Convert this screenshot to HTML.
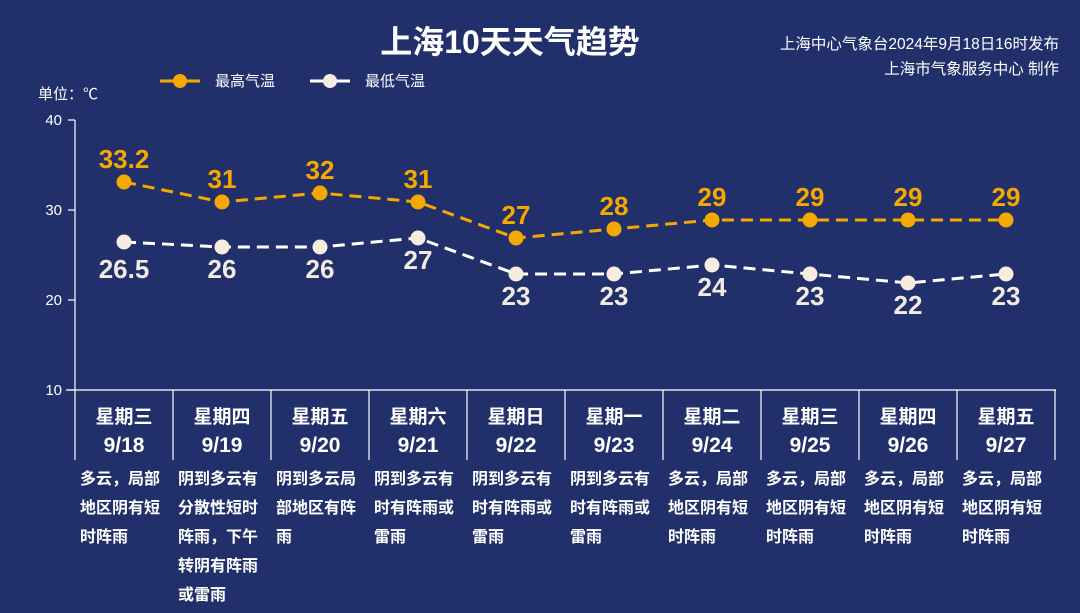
<!DOCTYPE html>
<html><head><meta charset="utf-8"><style>
html,body{margin:0;padding:0;background:#21306a;}
svg{display:block;font-family:"Liberation Sans","Noto Sans CJK SC",sans-serif;}
</style></head><body>
<svg width="1080" height="613" viewBox="0 0 1080 613">
<rect width="1080" height="613" fill="#21306a"/>
<text x="510" y="53" fill="#fff" font-size="32" font-weight="bold" text-anchor="middle">上海10天天气趋势</text>
<text x="1059" y="49" fill="#fff" font-size="15.5" text-anchor="end">上海中心气象台2024年9月18日16时发布</text>
<text x="1059" y="74" fill="#fff" font-size="15.5" text-anchor="end">上海市气象服务中心 制作</text>
<line x1="160" y1="81" x2="200" y2="81" stroke="#f5a800" stroke-width="3"/><circle cx="180" cy="81" r="7" fill="#f5a800"/>
<text x="215" y="86" fill="#fff" font-size="15">最高气温</text>
<line x1="310" y1="81" x2="350" y2="81" stroke="#fff" stroke-width="3"/><circle cx="330" cy="81" r="7" fill="#f6ece0"/>
<text x="365" y="86" fill="#fff" font-size="15">最低气温</text>
<text x="38" y="99" fill="#fff" font-size="15">单位：℃</text>
<g stroke="#fff" stroke-width="1.2">
<line x1="75" y1="120" x2="75" y2="460"/>
<line x1="68" y1="120" x2="75" y2="120"/><line x1="68" y1="210" x2="75" y2="210"/><line x1="68" y1="300" x2="75" y2="300"/><line x1="68" y1="390" x2="75" y2="390"/>
<line x1="66" y1="390" x2="1056" y2="390"/>
<line x1="173" y1="390" x2="173" y2="460"/><line x1="271" y1="390" x2="271" y2="460"/><line x1="369" y1="390" x2="369" y2="460"/><line x1="467" y1="390" x2="467" y2="460"/><line x1="565" y1="390" x2="565" y2="460"/><line x1="663" y1="390" x2="663" y2="460"/><line x1="761" y1="390" x2="761" y2="460"/><line x1="859" y1="390" x2="859" y2="460"/><line x1="957" y1="390" x2="957" y2="460"/><line x1="1055" y1="390" x2="1055" y2="460"/>
</g>
<g fill="#fff" font-size="15" text-anchor="end"><text x="62" y="125">40</text><text x="62" y="215">30</text><text x="62" y="305">20</text><text x="62" y="395">10</text></g>
<polyline fill="none" stroke="#f5a800" stroke-width="3" stroke-dasharray="12,7" points="124,182 222,202 320,193 418,202 516,238 614,229 712,220 810,220 908,220 1006,220"/>
<polyline fill="none" stroke="#fff" stroke-width="3" stroke-dasharray="12,7" points="124,242 222,247 320,247 418,238 516,274 614,274 712,265 810,274 908,283 1006,274"/>
<g fill="#f5a800"><circle cx="124" cy="182" r="7.5"/><circle cx="222" cy="202" r="7.5"/><circle cx="320" cy="193" r="7.5"/><circle cx="418" cy="202" r="7.5"/><circle cx="516" cy="238" r="7.5"/><circle cx="614" cy="229" r="7.5"/><circle cx="712" cy="220" r="7.5"/><circle cx="810" cy="220" r="7.5"/><circle cx="908" cy="220" r="7.5"/><circle cx="1006" cy="220" r="7.5"/></g>
<g fill="#f6ece0"><circle cx="124" cy="242" r="7.5"/><circle cx="222" cy="247" r="7.5"/><circle cx="320" cy="247" r="7.5"/><circle cx="418" cy="238" r="7.5"/><circle cx="516" cy="274" r="7.5"/><circle cx="614" cy="274" r="7.5"/><circle cx="712" cy="265" r="7.5"/><circle cx="810" cy="274" r="7.5"/><circle cx="908" cy="283" r="7.5"/><circle cx="1006" cy="274" r="7.5"/></g>
<g fill="#f5a800" font-size="26" font-weight="bold" text-anchor="middle">
<text x="124" y="168">33.2</text><text x="222" y="188">31</text><text x="320" y="179">32</text><text x="418" y="188">31</text><text x="516" y="224">27</text><text x="614" y="215">28</text><text x="712" y="206">29</text><text x="810" y="206">29</text><text x="908" y="206">29</text><text x="1006" y="206">29</text></g>
<g fill="#f2ebe4" font-size="26" font-weight="bold" text-anchor="middle">
<text x="124" y="278">26.5</text><text x="222" y="278">26</text><text x="320" y="278">26</text><text x="418" y="269">27</text><text x="516" y="305">23</text><text x="614" y="305">23</text><text x="712" y="296">24</text><text x="810" y="305">23</text><text x="908" y="314">22</text><text x="1006" y="305">23</text></g>
<g fill="#fff" font-size="19" font-weight="bold" text-anchor="middle">
<text x="124" y="423">星期三</text><text x="222" y="423">星期四</text><text x="320" y="423">星期五</text><text x="418" y="423">星期六</text><text x="516" y="423">星期日</text><text x="614" y="423">星期一</text><text x="712" y="423">星期二</text><text x="810" y="423">星期三</text><text x="908" y="423">星期四</text><text x="1006" y="423">星期五</text></g>
<g fill="#fff" font-size="21" font-weight="bold" text-anchor="middle">
<text x="124" y="452">9/18</text><text x="222" y="452">9/19</text><text x="320" y="452">9/20</text><text x="418" y="452">9/21</text><text x="516" y="452">9/22</text><text x="614" y="452">9/23</text><text x="712" y="452">9/24</text><text x="810" y="452">9/25</text><text x="908" y="452">9/26</text><text x="1006" y="452">9/27</text></g>
<g fill="#fff" font-size="16" font-weight="bold">
<text x="80" y="484">多云，局部</text><text x="80" y="513">地区阴有短</text><text x="80" y="542">时阵雨</text>
<text x="178" y="484">阴到多云有</text><text x="178" y="513">分散性短时</text><text x="178" y="542">阵雨，下午</text><text x="178" y="571">转阴有阵雨</text><text x="178" y="600">或雷雨</text>
<text x="276" y="484">阴到多云局</text><text x="276" y="513">部地区有阵</text><text x="276" y="542">雨</text>
<text x="374" y="484">阴到多云有</text><text x="374" y="513">时有阵雨或</text><text x="374" y="542">雷雨</text>
<text x="472" y="484">阴到多云有</text><text x="472" y="513">时有阵雨或</text><text x="472" y="542">雷雨</text>
<text x="570" y="484">阴到多云有</text><text x="570" y="513">时有阵雨或</text><text x="570" y="542">雷雨</text>
<text x="668" y="484">多云，局部</text><text x="668" y="513">地区阴有短</text><text x="668" y="542">时阵雨</text>
<text x="766" y="484">多云，局部</text><text x="766" y="513">地区阴有短</text><text x="766" y="542">时阵雨</text>
<text x="864" y="484">多云，局部</text><text x="864" y="513">地区阴有短</text><text x="864" y="542">时阵雨</text>
<text x="962" y="484">多云，局部</text><text x="962" y="513">地区阴有短</text><text x="962" y="542">时阵雨</text>
</g>
</svg>
</body></html>
